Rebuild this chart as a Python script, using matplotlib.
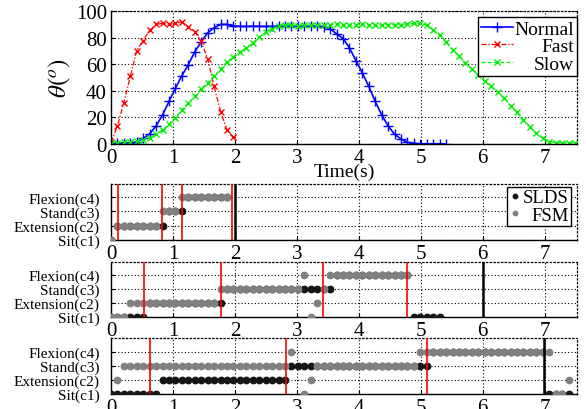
import numpy as np
import matplotlib
matplotlib.use('Agg')
import matplotlib.pyplot as plt
from matplotlib.lines import Line2D

plt.rcParams['font.family'] = ['Liberation Serif', 'DejaVu Serif']
plt.rcParams['mathtext.fontset'] = 'stix'

# ---------------- data ----------------
dt = 0.104  # sampling step (s)

normal_theta = [0.5, 0.5, 0.8, 1.0, 1.5, 4.3, 7.6, 13.6, 21.9, 32.0,
                42.0, 51.4, 59.7, 69.3, 76.8, 83.6, 87.4, 89.9, 89.9, 88.7,
                88.5, 88.4, 88.6, 88.5, 88.4, 88.5, 88.6, 88.5, 88.5, 88.4,
                88.6, 88.5, 88.5, 88.3, 86.6, 82.9, 79.3, 72.3, 62.7, 53.4,
                43.3, 32.0, 21.9, 13.6, 7.3, 3.8, 1.3, 0.5, 0.2, 0.2,
                0.2, 0.2, 0.2]

fast_theta = [1.3, 13.6, 31.2, 50.9, 70.3, 77.8, 85.4, 89.9, 90.7, 89.9,
              90.7, 91.9, 88.2, 84.4, 77.3, 64.0, 43.3, 24.4, 10.6, 5.0]

slow_theta = [1.0, 1.0, 1.3, 1.8, 2.3, 3.0, 4.8, 7.3, 10.6, 14.9,
              19.9, 25.7, 30.7, 35.8, 41.6, 45.8, 50.9, 56.4, 61.7, 65.5,
              69.3, 72.3, 76.0, 80.5, 84.0, 86.5, 88.5, 89.8, 89.5, 88.8,
              89.2, 89.6, 89.8, 89.5, 89.7, 89.9, 89.6, 89.4, 89.7, 89.9,
              89.6, 89.5, 89.8, 89.7, 89.5, 89.8, 90.2, 90.7, 91.0, 89.4,
              85.6, 81.9, 76.8, 71.0, 66.0, 61.0, 56.4, 52.1, 47.1, 43.3,
              38.8, 34.5, 28.7, 23.7, 18.1, 13.1, 8.1, 4.3, 1.8, 1.0,
              0.8, 0.8, 0.8]

state_labels = ['Sit(c1)', 'Extension(c2)', 'Stand(c3)', 'Flexion(c4)']
N = None  # no sample

fast_slds = [1, 2, 2, 2, 2, 2, 2, 2, 2, 3, 3, 3, 4, 4, 4, 4, 4, 4, 4]
fast_fsm = [1, 2, 2, 2, 2, 2, 2, 2, 3, 3, 3, 4, 4, 4, 4, 4, 4, 4, 4]

normal_slds = [1, 1, 1, 1, 1, 1, 2, 2, 2, 2, 2, 2, 2, 2, 2, 2, 2, 2,
               3, 3, 3, 3, 3, 3, 3, 3, 3, 3, 3, 3, 3, 3, 3, 3, 3,
               4, 4, 4, 4, 4, 4, 4, 4, 4, 4, 4, 4, 1, 1, 1, 1, 1]
normal_fsm = [1, 1, 1, 2, 2, 2, 2, 2, 2, 2, 2, 2, 2, 2, 2, 2, 2,
              3, 3, 3, 3, 3, 3, 3, 3, 3, 3, 3, 3, 3,
              4, 1, 2, 3, 4, 4, 4, 4, 4, 4, 4, 4, 4, 4, 4, 4, 4]

slow_slds = [1, 1, 1, 1, 1, 1, 1, 1,
             2, 2, 2, 2, 2, 2, 2, 2, 2, 2, 2, 2, 2, 2, 2, 2, 2, 2, 2, 2,
             3, 3, 3, 3, 3, 3, 3, 3, 3, 3, 3, 3, 3, 3, 3, 3, 3, 3, 3, 3, 3, 3,
             4, 4, 4, 4, 4, 4, 4, 4, 4, 4, 4, 4, 4, 4, 4, 4, 4, 4,
             1, 1, 1, 1]
slow_fsm = [N, 2, 3, 3, 3, 3, 3, 3, 3, 3, 3, 3, 3, 3, 3, 3, 3, 3, 3, 3, 3, 3,
            3, 3, 3, 3, 3, 3, 4, N, 1, 2,
            3, 3, 3, 3, 3, 3, 3, 3, 3, 3, 3, 3, 3, 3, 3, 3,
            4, 4, 4, 4, 4, 4, 4, 4, 4, 4, 4, 4, 4, 4, 4, 4, 4, 4, 4, 4, 4,
            1, 1, 2]

fast_trans = [0.11, 0.83, 1.14, 1.95]
fast_end = 2.0
normal_trans = [0.53, 1.77, 3.42, 4.78]
normal_end = 6.0
slow_trans = [0.63, 2.82, 5.10]
slow_end = 6.99

# ---------------- helpers ----------------
def times(n):
    return np.arange(n) * dt

def states(seq):
    return np.array([np.nan if v is None else v for v in seq], dtype=float)

def right_align_legend(fig, leg):
    fig.canvas.draw()
    r = fig.canvas.get_renderer()
    for col in leg._legend_handle_box.get_children():
        rows = col.get_children()
        w = max(row.get_bbox(r).width for row in rows)
        for row in rows:
            row.mode = 'expand'
        col.width = w

def style_axes(ax):
    ax.set_xlim(0, 7.52)
    ax.set_xticks(range(8))
    ax.grid(True, color='black', linestyle=(0, (1, 2)), linewidth=0.8)
    for s in ['top', 'right']:
        ax.spines[s].set_linestyle((0, (1, 2)))
        ax.spines[s].set_linewidth(0.9)
    for s in ['left', 'bottom']:
        ax.spines[s].set_linewidth(1.0)
    ax.tick_params(direction='in', length=3, labelsize=15, pad=3)

# ---------------- figure ----------------
fig = plt.figure(figsize=(5.86, 4.10), dpi=100)
W, H = 586.0, 410.0
L, R = 111, 577

def add_ax(top, bottom):
    return fig.add_axes([L / W, (H - bottom) / H, (R - L) / W, (bottom - top) / H])

ax0 = add_ax(12, 145)
style_axes(ax0)
ax0.set_ylim(0, 100)
ax0.set_yticks(range(0, 101, 20))
ax0.plot(times(len(normal_theta)), normal_theta, color='#0000ff', lw=1.2,
         marker='+', ms=7, mew=1.0, label='Normal')
ax0.plot(times(len(fast_theta)), fast_theta, color='#ff0000', lw=0.9,
         ls=(0, (4, 1.5, 1, 1.5)), marker='x', ms=4.5, mew=1.0, label='Fast')
ax0.plot(times(len(slow_theta)), slow_theta, color='#00ee00', lw=0.9,
         ls=(0, (3, 2)), marker='x', ms=4.5, mew=1.0, label='Slow')
ax0.set_ylabel(r'$\theta(^o)$', fontsize=18, labelpad=2)
ax0.set_xlabel('Time(s)', fontsize=14, labelpad=-3)
leg0 = ax0.legend(loc='upper right', bbox_to_anchor=(1.0, 0.955), fontsize=14,
                  frameon=True, fancybox=False, edgecolor='black',
                  framealpha=1, borderaxespad=0, handlelength=1.6,
                  handletextpad=0.1, borderpad=0.15, labelspacing=0.0,
                  numpoints=1)
leg0.get_frame().set_linewidth(1.0)

panels = [
    (185, 240.7, fast_slds, fast_fsm, fast_trans, fast_end),
    (262.7, 317.7, normal_slds, normal_fsm, normal_trans, normal_end),
    (339.3, 395, slow_slds, slow_fsm, slow_trans, slow_end),
]

state_axes = []
for top, bottom, slds, fsm, trans, end in panels:
    ax = add_ax(top, bottom)
    style_axes(ax)
    ax.set_ylim(1, 4.95)
    ax.set_yticks([1, 2, 3, 4])
    ax.set_yticklabels(state_labels, fontsize=11)
    ax.tick_params(axis='y', labelsize=11, pad=8)
    s = states(slds)
    f = states(fsm)
    ax.plot(times(len(s)), s, ls='none', marker='o', ms=4.6,
            color='#151515', mec='#151515', label='SLDS', zorder=3)
    ax.plot(times(len(f)), f, ls='none', marker='o', ms=4.6,
            color='#808080', mec='#808080', label='FSM', zorder=4)
    for t in trans:
        ax.axvline(t, color='#ff0000', lw=1.2, zorder=5)
    ax.axvline(end, color='black', lw=1.8, zorder=5)
    state_axes.append(ax)

handles = [Line2D([], [], ls='none', marker='o', ms=3.2, color='#151515'),
           Line2D([], [], ls='none', marker='o', ms=3.2, color='#808080')]
leg1 = state_axes[0].legend(handles, ['SLDS', 'FSM'], loc='upper right',
                            bbox_to_anchor=(0.988, 0.955), fontsize=13.5,
                            frameon=True, fancybox=False, edgecolor='black',
                            framealpha=1, borderaxespad=0, handlelength=0.6,
                            handletextpad=0.1, borderpad=0.15,
                            labelspacing=0.0)
leg1.get_frame().set_linewidth(1.0)

right_align_legend(fig, leg0)
right_align_legend(fig, leg1)

fig.savefig('out.png', dpi=100)
